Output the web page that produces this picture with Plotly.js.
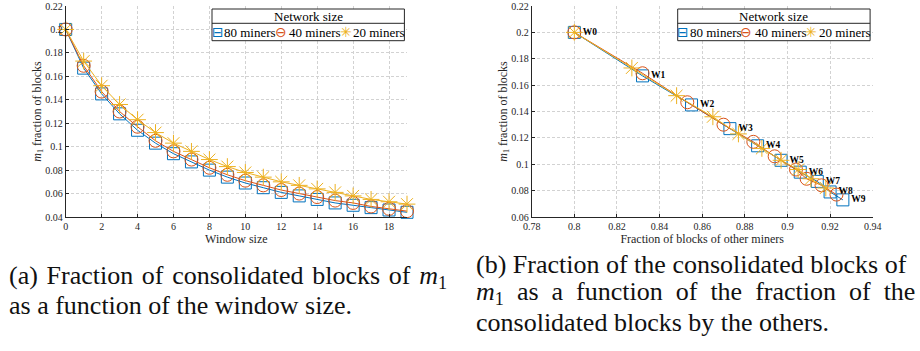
<!DOCTYPE html>
<html>
<head>
<meta charset="utf-8">
<script src="https://cdn.plot.ly/plotly-3.0.1.min.js"></script>
<style>
  html, body { margin: 0; padding: 0; background: #fff; }
  #chart { width: 920px; height: 351px; }
</style>
</head>
<body>
<div id="chart"></div>
<script>
// ---------- data ----------
const seriesNames = ['80 miners', '40 miners', '20 miners'];
const legendTitle = 'Network size';

// (a) fraction of m1 blocks vs window size
const windowSize = [0,1,2,3,4,5,6,7,8,9,10,11,12,13,14,15,16,17,18,19];
const m1Miners80 = [0.200,0.167,0.145,0.128,0.114,0.103,0.094,0.087,0.080,0.074,0.069,0.065,0.061,0.058,0.055,0.052,0.050,0.048,0.046,0.044];
const m1Miners40 = [0.200,0.169,0.147,0.130,0.117,0.105,0.096,0.089,0.082,0.076,0.071,0.067,0.063,0.060,0.057,0.054,0.052,0.049,0.047,0.045];
const m1Miners20 = [0.200,0.173,0.152,0.136,0.123,0.112,0.103,0.096,0.089,0.083,0.078,0.074,0.070,0.067,0.064,0.061,0.058,0.055,0.053,0.051];

// (b) fraction of m1 blocks vs fraction of the others' blocks, windows W0..W9
const windowLabels = ['W0','W1','W2','W3','W4','W5','W6','W7','W8','W9'];
const others80 = [0.800,0.832,0.855,0.873,0.886,0.897,0.906,0.914,0.920,0.926];
const m1w80    = [0.200,0.167,0.145,0.127,0.114,0.103,0.094,0.087,0.079,0.073];
const others40 = [0.800,0.832,0.853,0.870,0.884,0.894,0.904,0.909,0.916,0.923];
const m1w40    = [0.200,0.169,0.147,0.130,0.117,0.106,0.096,0.089,0.084,0.077];
const others20 = [0.800,0.827,0.848,0.865,0.877,0.888,0.897,0.905,0.911,0.918];
const m1w20    = [0.200,0.173,0.152,0.136,0.123,0.112,0.103,0.096,0.089,0.082];

// ---------- styling ----------
const W = 920, H = 351;
const SERIF = 'Liberation Serif, serif';
const GLYPHFONT = 'DejaVu Sans, sans-serif';
const INK = '#262626';
const colors = ['#0072BD', '#D95319', '#EDB120'];
const symbols = ['square-open', 'circle-open', 'asterisk-open'];
const legendGlyphs = ['\u229F', '\u2296', '\u2733'];
const msizes = [12, 13, 14];

function px2x(p) { return p / W; }
function px2y(p) { return 1 - p / H; }

const leftData = [m1Miners80, m1Miners40, m1Miners20];
const rightX = [others80, others40, others20];
const rightY = [m1w80, m1w40, m1w20];

const traces = [];
for (let i = 0; i < 3; i++) {
  traces.push({
    type: 'scatter', mode: 'lines+markers',
    x: windowSize, y: leftData[i], name: seriesNames[i],
    xaxis: 'x', yaxis: 'y', showlegend: false,
    line: { color: colors[i], width: 1 },
    marker: { symbol: symbols[i], size: msizes[i], color: colors[i], line: { color: colors[i], width: 1 } },
    cliponaxis: false
  });
}
for (let i = 0; i < 3; i++) {
  traces.push({
    type: 'scatter', mode: 'lines+markers',
    x: rightX[i], y: rightY[i], name: seriesNames[i],
    xaxis: 'x2', yaxis: 'y2', showlegend: false,
    line: { color: colors[i], width: 1 },
    marker: { symbol: symbols[i], size: msizes[i], color: colors[i], line: { color: colors[i], width: 1 } },
    cliponaxis: false
  });
}
// window labels next to the 80-miner points
traces.push({
  type: 'scatter', mode: 'markers+text',
  x: others80, y: m1w80, text: windowLabels,
  textposition: 'middle right',
  textfont: { family: SERIF, size: 9.5, color: '#000', weight: 'bold' },
  marker: { size: 12, color: 'rgba(0,0,0,0)' },
  xaxis: 'x2', yaxis: 'y2', showlegend: false, hoverinfo: 'skip', cliponaxis: false
});

const axisCommon = {
  showline: true, linecolor: INK, linewidth: 1,
  ticks: 'inside', ticklen: 3, tickcolor: INK, tickwidth: 1,
  showgrid: true, gridcolor: '#d2d2d2', griddash: '3px,2px', gridwidth: 1,
  zeroline: false, mirror: false,
  tickfont: { family: SERIF, size: 10, color: INK }
};
const titleFont = { family: SERIF, size: 12, color: INK };

const PLOT_TOP = 6, PLOT_BOT = 217;
const L_LEFT = 65.7, L_RIGHT = 407, R_LEFT = 531.7, R_RIGHT = 872.7;

const layout = {
  width: W, height: H,
  margin: { l: 0, r: 0, t: 0, b: 0 },
  paper_bgcolor: '#fff', plot_bgcolor: '#fff',
  font: { family: SERIF },
  showlegend: false,
  xaxis: Object.assign({}, axisCommon, {
    domain: [px2x(L_LEFT), px2x(L_RIGHT)], range: [0, 19], dtick: 2, tick0: 0, anchor: 'y',
    title: { text: 'Window size', standoff: 3, font: titleFont }
  }),
  yaxis: Object.assign({}, axisCommon, {
    domain: [px2y(PLOT_BOT), px2y(PLOT_TOP)], range: [0.04, 0.22], dtick: 0.02, tick0: 0.04, anchor: 'x',
    title: { text: '<i>m</i><sub>1</sub> fraction of blocks', standoff: 0, font: titleFont }
  }),
  xaxis2: Object.assign({}, axisCommon, {
    domain: [px2x(R_LEFT), px2x(R_RIGHT)], range: [0.78, 0.94], dtick: 0.02, tick0: 0.78, anchor: 'y2',
    title: { text: 'Fraction of blocks of other miners', standoff: 3, font: titleFont }
  }),
  yaxis2: Object.assign({}, axisCommon, {
    domain: [px2y(PLOT_BOT), px2y(PLOT_TOP)], range: [0.06, 0.22], dtick: 0.02, tick0: 0.06, anchor: 'x2',
    title: { text: '<i>m</i><sub>1</sub> fraction of blocks', standoff: 0, font: titleFont }
  }),
  shapes: [],
  annotations: []
};

// ---------- legends (one per panel, laid out like the original) ----------
function addLegend(rightEdge) {
  const x0 = rightEdge - 195, x1 = rightEdge - 2.6;
  const top = 9, sep = 23.3, bot = 40.7;
  layout.shapes.push({
    type: 'rect', xref: 'paper', yref: 'paper', layer: 'above',
    x0: px2x(x0), x1: px2x(x1), y0: px2y(bot), y1: px2y(top),
    line: { color: INK, width: 1 }, fillcolor: '#fff'
  });
  layout.shapes.push({
    type: 'line', xref: 'paper', yref: 'paper', layer: 'above',
    x0: px2x(x0), x1: px2x(x1), y0: px2y(sep), y1: px2y(sep),
    line: { color: INK, width: 1 }
  });
  layout.annotations.push({
    text: legendTitle, x: px2x((x0 + x1) / 2), y: px2y((top + sep) / 2 + 0.5),
    xanchor: 'center', yanchor: 'middle',
    font: { family: SERIF, size: 13, color: '#000' }
  });
  const glyphCenters = [-189.5, -126.3, -61.5];
  const textLefts = [-184.2, -118.8, -54.8];
  const rowY = (sep + bot) / 2 + 0.5;
  for (let i = 0; i < 3; i++) {
    layout.annotations.push({
      text: legendGlyphs[i], x: px2x(rightEdge + glyphCenters[i]), y: px2y(rowY),
      xanchor: 'center', yanchor: 'middle',
      font: { family: GLYPHFONT, size: 14, color: colors[i] }
    });
    layout.annotations.push({
      text: seriesNames[i], x: px2x(rightEdge + textLefts[i]), y: px2y(rowY),
      xanchor: 'left', yanchor: 'middle',
      font: { family: SERIF, size: 13, color: '#000' }
    });
  }
}
addLegend(L_RIGHT);
addLegend(R_RIGHT);

// ---------- sub-captions ----------
const NB = '\u00a0', HS = ' \u200A';
const captions = [
  { text: ['(a)', 'Fraction', 'of', 'consolidated', 'blocks', 'of', '<i>m</i><sub>1</sub>'].join(HS), x: 8, y: 277 },
  { text: 'as a function of the window size.', x: 8, y: 305 },
  { text: '(b) Fraction of the consolidated blocks of', x: 475, y: 264 },
  { text: ['<i>m</i><sub>1</sub>', 'as', 'a', 'function', 'of', 'the', 'fraction', 'of', 'the'].join(NB + NB), x: 475, y: 293 },
  { text: 'consolidated blocks by the others.', x: 475, y: 322 }
];
captions.forEach(c => layout.annotations.push({
  text: c.text, x: px2x(c.x), y: px2y(c.y), xanchor: 'left', yanchor: 'middle',
  font: { family: SERIF, size: 26, color: '#111' }
}));

layout.annotations = layout.annotations.map(a => Object.assign({
  xref: 'paper', yref: 'paper', showarrow: false, borderpad: 0
}, a));

Plotly.newPlot('chart', traces, layout, { staticPlot: true, displayModeBar: false });
</script>
</body>
</html>
